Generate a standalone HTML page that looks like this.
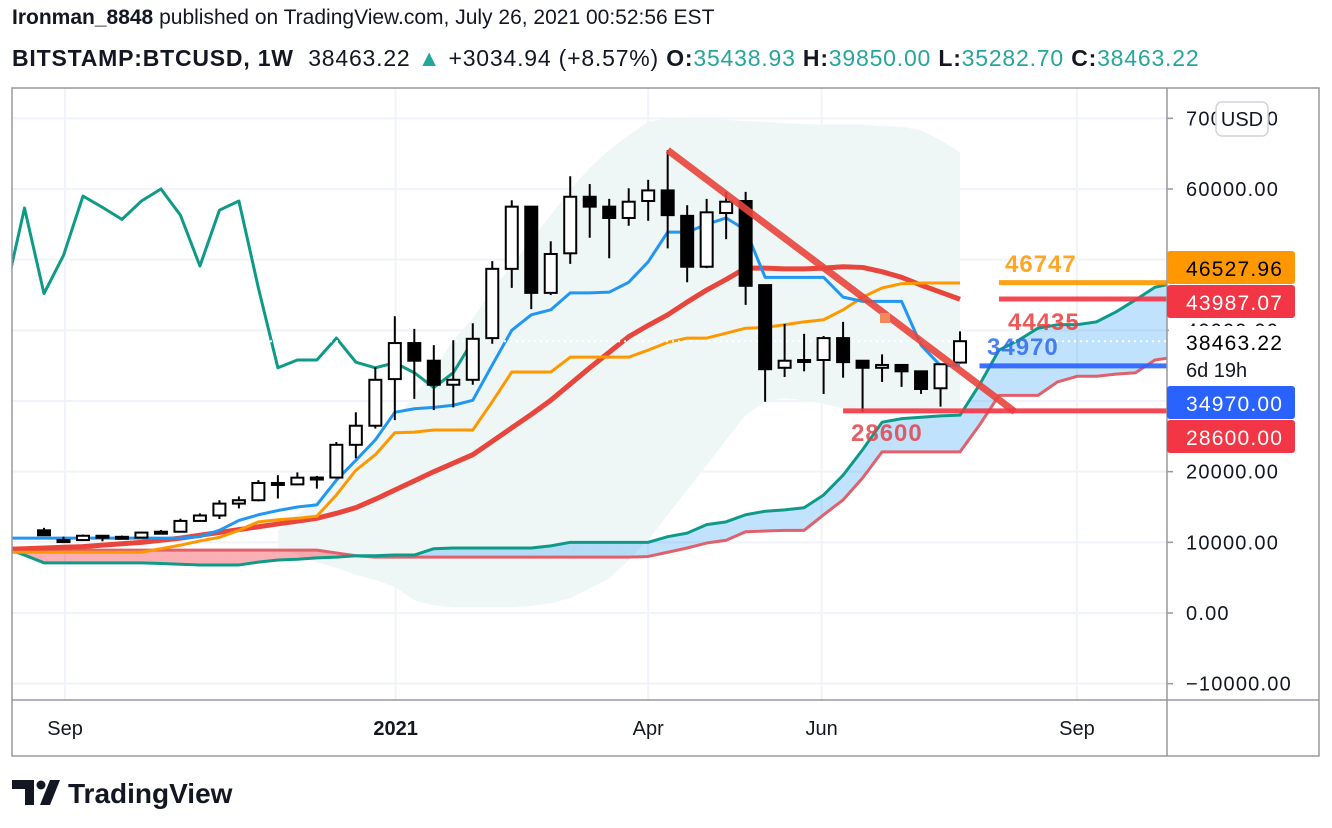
<!DOCTYPE html>
<html><head><meta charset="utf-8"><style>
body{margin:0;background:#fff;width:1332px;height:828px;overflow:hidden;font-family:"Liberation Sans",sans-serif;color:#131722}
.hdr{position:absolute;left:12px;font-size:21px;white-space:nowrap}
.g{color:#26a69a}
</style></head><body>
<div class="hdr" style="top:6px"><b>Ironman_8848</b> published on TradingView.com, July 26, 2021 00:52:56 EST</div>
<div class="hdr" style="top:45px;font-size:23px;letter-spacing:0.8px"><b>BITSTAMP:BTCUSD, 1W</b>&nbsp; 38463.22 <span class="g">▲</span> +3034.94 (+8.57%) <b>O:</b><span class="g">35438.93</span> <b>H:</b><span class="g">39850.00</span> <b>L:</b><span class="g">35282.70</span> <b>C:</b><span class="g">38463.22</span></div>
<svg id="c" width="1332" height="828" style="position:absolute;left:0;top:0"></svg>
<script>
const categoriesStart = 0; // candle index 0 = week of Aug 24 2020
const opens  = [11700,10250,10320,10930,10780,10670,11380,11500,13030,13800,15480,15960,18400,18200,19150,19170,23800,26500,33100,38200,35700,32300,33000,38900,48700,57500,45300,50900,58900,57500,55900,58300,59800,56200,49000,56600,58300,46400,34700,35800,35800,38900,35700,34700,35100,34200,31800,35438.93];
const highs  = [12050,10800,11100,10990,10950,11500,11750,13350,14100,15970,16500,18800,19500,19900,19400,24200,28400,34800,42000,40200,37900,38600,41000,49800,58400,57500,52600,61800,60700,58600,60100,61300,65500,57700,58600,59600,59600,46400,40900,39500,39200,41200,35700,36600,35100,34200,35200,39850];
const lows   = [10900,9900,10250,10150,10400,10550,11200,11400,12980,13300,14800,15800,16200,18100,17600,19000,21900,26100,27300,30300,28700,29100,32300,38100,46000,43000,45000,49400,53100,50200,54800,55500,51600,46800,48800,52900,43600,29900,33400,34200,31000,33300,28400,32700,32000,31000,29200,35282.7];
const closes = [11000,10320,10930,10780,10670,11380,11500,13030,13800,15480,15960,18400,18200,19150,19170,23800,26500,33000,38200,35700,32300,33000,38800,48700,57500,45300,50800,58900,57500,55900,58200,59800,56300,49000,56700,58200,46300,34500,35700,35800,38900,35500,34700,35100,34200,31700,35200,38463.22];
const lineStart = -2;
const conversionLine = [10600,10600,10600,10600,10600,10600,10600,10600,10600,10600,10800,11700,13100,13900,14500,15000,15300,18800,21600,24500,28400,28900,29100,29400,30100,35100,40000,42200,42900,45300,45300,45400,46800,49700,53900,53900,55000,55900,54200,47500,47500,47500,47500,44700,44100,44100,44100,37900,35000,35000];
const orangeLine = [8600,8600,8600,8600,8600,8600,8600,8600,9100,9600,10200,10700,11700,12900,13200,13400,13700,16700,20200,22400,25500,25600,25900,25900,25900,29900,34100,34100,34100,36200,36200,36200,36200,37200,38300,38900,38900,39600,40300,40400,40800,41200,41500,42900,44700,46000,46600,46700,46700,46700];
const redLine = [9000,9100,9200,9300,9400,9600,9800,10000,10300,10600,11000,11400,11800,12200,12600,13000,13400,14100,14900,16100,17400,18700,20000,21200,22400,24300,26200,28100,30100,32400,34700,36900,39100,40700,42200,44000,45700,47200,48800,48800,48700,48700,48800,49000,48900,48300,47500,46400,45400,44400];
const laggingLine = [45000,57300,45200,50600,59000,57400,55700,58300,60000,56300,49100,57000,58300,46000,34700,35800,35800,38900,35500,34700,35400,34000,31900,34000,38500];
const spanA = [9200,8200,7100,7100,7100,7100,7100,7100,7000,6900,6800,6800,6800,7200,7500,7600,7800,7900,8100,8100,8200,8200,9100,9200,9200,9200,9200,9200,9500,10000,10000,10000,10000,10000,10800,11300,12500,12900,13900,14400,14600,14900,16700,19500,23100,27000,27500,27700,27900,28000,32300,37200,38600,40300,40800,40800,41200,42600,44300,46100,46700];
const spanB = [8900,8900,8900,8900,8900,8900,8900,8900,8900,8900,8900,8900,8900,8900,8900,8900,8900,8500,8100,7900,7900,7900,7900,7900,7900,7900,7900,7900,7900,7900,7900,7900,7900,8000,8600,9200,9900,10300,11500,11600,11700,11700,13900,16000,19100,22800,22800,22800,22800,22800,26600,30800,30800,30800,32700,33500,33500,33800,34000,35800,36200];
const bandStart = 12;
const bandUpper = [11700,13900,16000,18800,21600,24500,27300,30800,34400,38600,41700,45700,49200,52800,56300,59900,63000,65500,67600,69500,70000,70000,69900,69800,69600,69500,69300,69200,69100,69100,69100,68900,68800,68300,66900,65200];
const bandLower = [9200,8200,7200,6400,5400,4700,3700,1800,1100,800,800,800,800,1000,1400,2100,3500,4900,7500,10300,13900,17400,20900,24500,28000,29900,30400,30100,29600,29000,28700,28700,28600,28600,28700,29000];
const priceTicks = [70000,60000,50000,40000,30000,20000,10000,0,-10000];
const priceTickLabels = ["70000.00","60000.00","50000.00","40000.00","30000.00","20000.00","10000.00","0.00","−10000.00"];
const timeTicks = [1.08,18.04,31,39.9,53]; // candle-index positions
const timeTickLabels = ["Sep","2021","Apr","Jun","Sep"];
const trendIdx = [32,49.8];
const trendVal = [65500,28500];
const hLevels = [28600,34970,46747,44435];
const hLevelStart = [41,48,49,49];
const lastPrice = 38463.22;

const NS="http://www.w3.org/2000/svg";
const svg=document.getElementById('c');
const L=12,R=1167,T=88,B=700;
function x(i){return 44+19.49*i;}
function y(v){return 613-v*0.0070667;}
function el(tag,attrs,parent){const e=document.createElementNS(NS,tag);for(const k in attrs)e.setAttribute(k,attrs[k]);(parent||svg).appendChild(e);return e;}
const defs=el('defs',{});
const cp=el('clipPath',{id:'clip'},defs);el('rect',{x:L,y:T,width:R-L,height:B-T},cp);
priceTicks.forEach(v=>{const g=el('line',{x1:L,x2:R,y1:y(v),y2:y(v),stroke:'#f0f3fa','stroke-width':2});

});
timeTicks.forEach(t=>{const g=el('line',{x1:x(t),x2:x(t),y1:T,y2:B,stroke:'#f0f3fa','stroke-width':2});

});
const plot=el('g',{'clip-path':'url(#clip)'});


let bp=[];bandUpper.forEach((v,k)=>bp.push(x(bandStart+k)+','+y(v)));
for(let k=bandLower.length-1;k>=0;k--)bp.push(x(bandStart+k)+','+y(bandLower[k]));
const band=el('polygon',{points:bp.join(' '),fill:'#eef6f6'},plot);


for(let k=0;k<spanA.length-1;k++){
 const i0=lineStart+k,i1=i0+1;
 const up=(spanA[k]+spanA[k+1])>=(spanB[k]+spanB[k+1]);
 const p=el('polygon',{points:`${x(i0)},${y(spanA[k])} ${x(i1)},${y(spanA[k+1])} ${x(i1)},${y(spanB[k+1])} ${x(i0)},${y(spanB[k])}`,fill:up?'rgba(33,150,243,0.28)':'rgba(242,54,69,0.4)'},plot);
 
 
}
function poly(arr,start,color,w,name){
 const pts=arr.map((v,k)=>x(start+k)+','+y(v)).join(' ');
 const p=el('polyline',{points:pts,fill:'none',stroke:color,'stroke-width':w,'stroke-linejoin':'round'},plot);
 
 
}
poly(spanB,lineStart,'#e0616b',3,'leading-span-b');
poly(spanA,lineStart,'#0f9a87',3,'leading-span-a');
poly(laggingLine,lineStart,'#0f9a87',3,'lagging-span');
poly(redLine,lineStart,'#e8453c',5,'base-line');
poly(orangeLine,lineStart,'#ff9800',3,'orange-ma');
poly(conversionLine,lineStart,'#2196f3',3,'conversion-line');
const lp=el('line',{x1:L,x2:R,y1:y(lastPrice),y2:y(lastPrice),stroke:'#fff','stroke-width':2,'stroke-dasharray':'2 4'},plot);


opens.forEach((o,i)=>{
 const c=closes[i],cx=x(categoriesStart+i);const upc=c>=o;
 const g=el('g',{},plot);
 
 
 el('line',{x1:cx,x2:cx,y1:y(highs[i]),y2:y(lows[i]),stroke:'#000','stroke-width':2},g);
 const top=y(Math.max(o,c)),bot=y(Math.min(o,c));
 el('rect',{x:cx-6,y:top,width:12,height:Math.max(bot-top,2),fill:upc?'#fff':'#000',stroke:'#000','stroke-width':2},g);
});
const tl=el('line',{x1:x(trendIdx[0]),y1:y(trendVal[0]),x2:x(trendIdx[1]),y2:y(trendVal[1]),stroke:'rgba(232,69,60,0.9)','stroke-width':7},plot);


const hcol=['#f23645','#2962ff','#ff9800','#f23645'];
hLevels.forEach((v,k)=>{const h=el('line',{x1:x(hLevelStart[k]),x2:R,y1:y(v),y2:y(v),stroke:hcol[k],'stroke-width':5,opacity:0.9},plot);

});
el('rect',{x:880,y:313,width:10,height:10,fill:'#f08a5d'},plot);
function txt(s,a,parent){const t=el('text',a,parent);t.textContent=s;return t;}
const lab=[["28600",851,441,'#e0454a'],["34970",987,355,'#2f6bf0'],["46747",1005,272,'#ff9800'],["44435",1008,330,'#f03a3a']];
lab.forEach(l=>{const t=txt(l[0],{x:l[1],y:l[2],fill:l[3],'font-size':24,'font-weight':'bold','letter-spacing':1,opacity:0.85},plot);

});
el('rect',{x:L,y:T,width:1319-L,height:756-T,fill:'none',stroke:'#9598a1','stroke-width':1.5});
el('line',{x1:R,x2:R,y1:T,y2:756,stroke:'#9598a1','stroke-width':1.5});
el('line',{x1:L,x2:1319,y1:B,y2:B,stroke:'#9598a1','stroke-width':1.5});
priceTicks.forEach((v,k)=>{
 el('line',{x1:R,x2:R+6,y1:y(v),y2:y(v),stroke:'#9598a1','stroke-width':1.5});
 const t=txt(priceTickLabels[k],{x:1186,y:y(v)+7,'font-size':20,fill:'#131722','letter-spacing':1.2});
 
 
});
timeTicks.forEach((t,k)=>{
 const tt=txt(timeTickLabels[k],{x:x(t),y:735,'font-size':20,fill:'#131722','text-anchor':'middle','font-weight':k==1?'bold':'normal'});
 
 
});
const tags=[["46527.96",251,'#ff9800','#000'],["43987.07",285,'#f23645','#fff'],["34970.00",386,'#2962ff','#fff'],["28600.00",420,'#f23645','#fff']];
tags.forEach(tg=>{const g=el('g',{});
 
 
 el('rect',{x:R,y:tg[1],width:128,height:33,rx:3,fill:tg[2]},g);
 txt(tg[0],{x:1186,y:tg[1]+25,'font-size':21,fill:tg[3],'letter-spacing':1.2},g);});
el('rect',{x:R+2,y:326,width:140,height:58,fill:'#fff'});
txt("38463.22",{x:1186,y:350,'font-size':21,fill:'#000','letter-spacing':1.2});
txt("6d 19h",{x:1186,y:377,'font-size':20,fill:'#131722'});
const usd=el('g',{});


el('rect',{x:1216,y:102,width:52,height:34,rx:6,fill:'#fff',stroke:'#d1d4dc','stroke-width':1.5},usd);
txt("USD",{x:1242,y:126,'font-size':20,fill:'#131722','text-anchor':'middle'},usd);
const logo=el('g',{});


el('path',{d:'M12 780 H34 V805 H25 V789 H12 Z',fill:'#131722'},logo);
el('circle',{cx:41,cy:785,r:4.5,fill:'#131722'},logo);
el('path',{d:'M50 780 H60 L50 805 H40 Z',fill:'#131722'},logo);
txt("TradingView",{x:68,y:803,'font-size':28,'font-weight':'bold',fill:'#131722'},logo);
</script>
</body></html>
